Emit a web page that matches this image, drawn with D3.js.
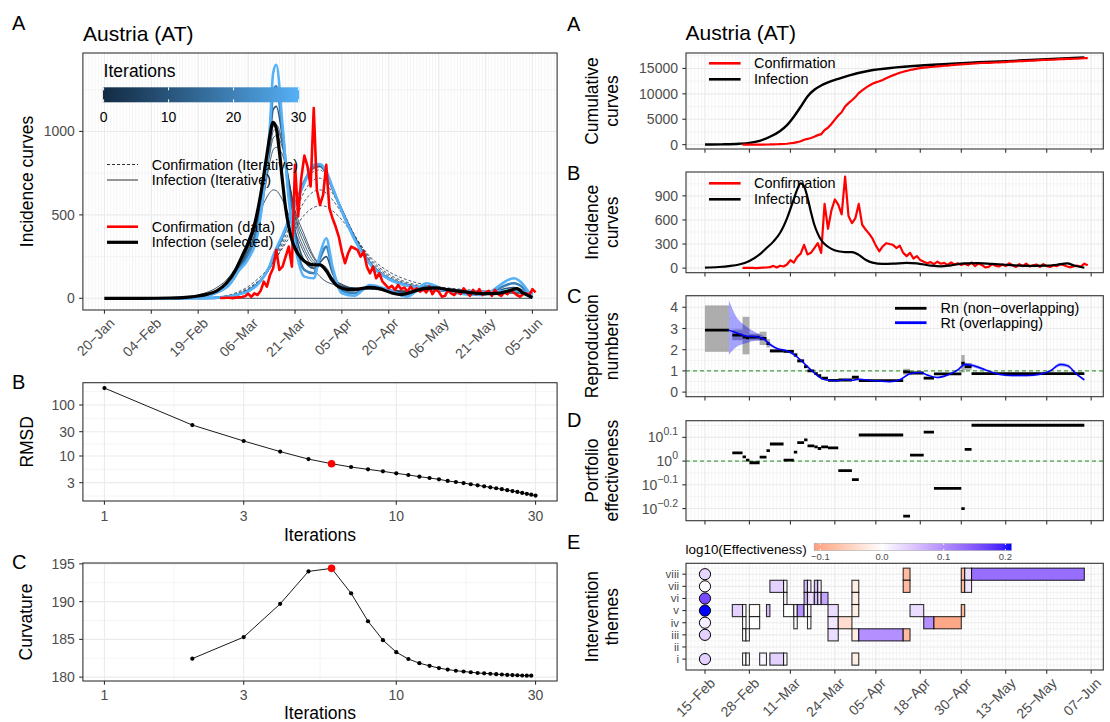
<!DOCTYPE html>
<html lang="en">
<head>
<meta charset="utf-8">
<title>Austria (AT)</title>
<script src="https://d3js.org/d3.v7.min.js"></script>
<style>
  body { margin: 0; background: #fff; }
  svg text { font-family: "Liberation Sans", Arial, sans-serif; }
</style>
</head>
<body>
<svg id="fig" width="1110" height="722"></svg>
<script>
// ---------------- data ----------------
// confirmed daily cases, one value per day from confStart
const confStart = "2020-02-26";
const confDaily = [2, 2, 3, 3,
  1, 4, 6, 8, 12, 28, 8, 30, 20, 45, 100, 70, 140, 180, 290, 170, 190, 250, 310, 190,
  800, 490, 720, 855, 790, 670, 1140, 650, 560, 620, 800,
  540, 480, 430, 370, 280, 210, 270, 310, 300, 290, 250, 280, 190, 150, 190, 120, 150, 100, 80, 60,
  75, 50, 80, 55, 65, 40, 70, 45, 60, 40,
  55, 35, 70, 25, 55, 40, 10, 15, 50, 30, 20, 45, 25, 60, 35, 15, 50, 25, 55, 20,
  35, 45, 15, 50, 25, 15, 35, 25, 50, 35, 20,
  10, 25, 30, 20, 55, 35];

// selected infection curve
const infDates = ["2020-01-20","2020-02-01","2020-02-10","2020-02-15","2020-02-19","2020-02-22","2020-02-25","2020-02-28",
  "2020-03-02","2020-03-04","2020-03-06","2020-03-08","2020-03-10","2020-03-12","2020-03-13","2020-03-14",
  "2020-03-15","2020-03-16","2020-03-17","2020-03-18","2020-03-19","2020-03-20","2020-03-21","2020-03-23",
  "2020-03-25","2020-03-27","2020-03-29","2020-03-31","2020-04-02","2020-04-04","2020-04-07","2020-04-10",
  "2020-04-14","2020-04-17","2020-04-21","2020-04-24","2020-04-27","2020-05-01","2020-05-05","2020-05-09",
  "2020-05-13","2020-05-17","2020-05-21","2020-05-25","2020-05-28","2020-05-31","2020-06-02","2020-06-05"];
const infValues = [0, 0, 2, 6, 14, 25, 45, 90,
  170, 250, 330, 440, 620, 860, 980, 1055,
  1020, 880, 700, 540, 430, 350, 300, 240,
  210, 200, 200, 165, 105, 68, 52, 55,
  65, 58, 32, 22, 35, 58, 62, 52,
  42, 32, 28, 30, 42, 58, 32, 5];

// cumulative infection curve
const cumInfDates = ["2020-02-15","2020-02-20","2020-02-25","2020-02-28","2020-03-02","2020-03-05","2020-03-08",
  "2020-03-10","2020-03-12","2020-03-14","2020-03-16","2020-03-18","2020-03-20","2020-03-22","2020-03-25",
  "2020-03-28","2020-04-03","2020-04-11","2020-04-26","2020-05-17","2020-06-05"];
const cumInfValues = [20, 60, 180, 350, 750, 1550, 2700, 3850, 5500, 7450, 9500, 10800, 11650, 12250, 12950,
  13600, 14550, 15200, 15900, 16550, 17180];

// iterative curves (panel A, left)
const itDates = ["2020-01-20","2020-02-05","2020-02-15","2020-02-20","2020-02-25","2020-02-29","2020-03-03",
  "2020-03-06","2020-03-09","2020-03-11","2020-03-13","2020-03-14","2020-03-15","2020-03-17","2020-03-19",
  "2020-03-21","2020-03-24","2020-03-27","2020-03-29","2020-03-31","2020-04-02","2020-04-05","2020-04-09",
  "2020-04-14","2020-04-20","2020-04-26","2020-05-02","2020-05-10","2020-05-20","2020-05-30","2020-06-05"];
const it0Dates = ["2020-01-20", "2020-06-05"];
const it0Values = [0, 0];
const infIt1 = [0,2,10,25,65,130,220,350,480,570,635,650,645,590,500,400,270,175,130,100,85,70,62,58,50,45,45,40,32,30,20];
const infIt2 = [0,1,6,18,50,105,190,320,480,620,820,890,905,860,700,530,380,250,200,160,120,85,60,55,48,40,50,42,30,38,10];
const infIt3 = [0,1,5,15,45,95,180,310,470,640,870,960,975,900,720,510,355,240,195,165,120,80,58,55,48,38,52,42,30,40,8];
const infIt4 = [0,1,4,13,42,90,175,305,470,650,900,1000,1015,920,710,490,325,222,200,175,120,75,55,58,48,35,55,42,28,45,6];
const infIt5 = [0,0,3,12,40,88,172,300,470,660,920,1030,1040,930,690,460,295,212,205,185,120,70,52,60,48,32,57,40,27,50,5];
const infIt10 = [0,0,2,10,38,85,170,280,440,650,950,1130,1150,960,670,410,225,180,215,250,150,60,45,65,50,25,62,40,25,65,4];
const infIt20 = [0,0,2,9,36,84,168,260,410,640,990,1240,1270,1000,630,360,170,150,240,310,170,45,30,70,50,20,72,38,22,90,3];
const infIt30 = [0,0,2,8,35,82,165,235,380,640,1040,1350,1400,1040,590,320,130,120,265,360,190,30,15,80,50,10,90,35,20,120,2];
const confIt1 = [0,0,0,2,8,20,40,70,115,150,195,220,245,300,360,420,500,545,555,550,525,470,370,250,160,110,80,60,45,38,30];
const confIt2 = [0,0,0,1,6,16,33,60,100,135,180,210,240,310,390,470,580,640,650,630,590,510,380,240,145,95,70,55,42,38,30];
const confIt3 = [0,0,0,1,5,14,30,55,95,130,180,215,250,330,420,510,640,710,720,690,630,530,380,230,135,88,65,52,40,38,30];
const confIt5 = [0,0,0,1,5,13,28,52,92,130,185,225,265,350,450,550,690,760,770,730,650,535,375,220,125,82,62,50,38,40,28];
const confIt10 = [0,0,0,1,4,12,26,48,88,130,190,235,280,365,460,560,700,780,790,745,655,530,370,215,120,80,60,50,38,42,28];
const confIt20 = [0,0,0,1,4,12,25,45,85,130,195,245,290,370,465,560,700,790,800,755,660,525,360,210,118,78,60,48,38,44,28];
const confIt30 = [0,0,0,1,4,11,24,42,82,130,200,255,300,380,470,555,690,800,805,760,665,520,355,205,115,76,58,47,38,45,28];

// RMSD and curvature by iteration
const iterations = d3.range(1, 31);
const rmsd = [215, 40.5, 19.7, 12.2, 8.7, 7.06, 6.08, 5.48, 5.0, 4.57, 4.24, 3.93, 3.7, 3.49, 3.24,
  3.09, 2.95, 2.79, 2.66, 2.54, 2.43, 2.33, 2.23, 2.14, 2.05, 1.97, 1.89, 1.81, 1.74, 1.67];
const curvIter = d3.range(2, 30);
const curvature = [182.45, 185.3, 189.7, 194.0, 194.4, 191.1, 187.4, 184.9, 183.3, 182.4, 181.85, 181.5, 181.2, 181.0,
  180.85, 180.75, 180.65, 180.55, 180.5, 180.45, 180.4, 180.35, 180.3, 180.28, 180.25, 180.22, 180.2, 180.2];
const selectedIter = 6;

// axis ticks
const ticksLeft = ["2020-01-20","2020-02-04","2020-02-19","2020-03-06","2020-03-21","2020-04-05","2020-04-20","2020-05-06","2020-05-21","2020-06-05"];
const labelsLeft = ["20−Jan","04−Feb","19−Feb","06−Mar","21−Mar","05−Apr","20−Apr","06−May","21−May","05−Jun"];
const ticksRight = ["2020-02-15","2020-02-28","2020-03-11","2020-03-24","2020-04-05","2020-04-18","2020-04-30","2020-05-13","2020-05-25","2020-06-07"];
const labelsRight = ["15−Feb","28−Feb","11−Mar","24−Mar","05−Apr","18−Apr","30−Apr","13−May","25−May","07−Jun"];

// reproduction numbers (non-overlapping windows)
const rnStart = ["2020-02-15","2020-02-23","2020-02-26","2020-02-27","2020-02-28","2020-03-02","2020-03-04","2020-03-05","2020-03-09",
  "2020-03-12","2020-03-13","2020-03-15","2020-03-16","2020-03-18","2020-03-19","2020-03-20","2020-03-22","2020-03-25",
  "2020-03-29","2020-03-31","2020-04-13","2020-04-15","2020-04-19","2020-04-22","2020-04-30","2020-05-01","2020-05-03"];
const rnEnd = ["2020-02-22","2020-02-26","2020-02-27","2020-02-28","2020-03-02","2020-03-04","2020-03-05","2020-03-09","2020-03-12",
  "2020-03-13","2020-03-15","2020-03-16","2020-03-18","2020-03-19","2020-03-20","2020-03-22","2020-03-25","2020-03-29",
  "2020-03-31","2020-04-13","2020-04-15","2020-04-19","2020-04-22","2020-04-30","2020-05-01","2020-05-03","2020-06-05"];
const rnValue = [2.92, 2.69, 2.6, 2.56, 2.59, 2.53, 2.29, 1.94, 1.92, 1.75, 1.47, 1.2, 1.0, 0.87, 0.78, 0.66, 0.55, 0.57,
  0.7, 0.54, 0.95, 0.9, 0.66, 0.86, 1.36, 1.2, 0.87];
const rnLow = [1.9, 2.45, 1.78, 1.78, 2.45, 2.22, 2.1, 1.86, 1.85, 1.66, 1.4, 1.12, 0.95, 0.82, 0.74, 0.62, 0.52, 0.54,
  0.65, 0.52, 0.82, 0.85, 0.6, 0.82, 0.93, 1.05, 0.85];
const rnHigh = [4.09, 2.95, 3.55, 3.55, 2.75, 2.85, 2.5, 2.02, 2.0, 1.84, 1.55, 1.28, 1.06, 0.92, 0.83, 0.7, 0.58, 0.6,
  0.75, 0.56, 1.1, 0.95, 0.72, 0.9, 1.75, 1.37, 0.89];

// reproduction number (overlapping windows)
const rtDates = ["2020-02-22","2020-02-24","2020-02-27","2020-03-01","2020-03-03","2020-03-05","2020-03-07","2020-03-10",
  "2020-03-12","2020-03-14","2020-03-16","2020-03-18","2020-03-20","2020-03-22","2020-03-25","2020-03-27","2020-03-29",
  "2020-03-31","2020-04-03","2020-04-06","2020-04-09","2020-04-12","2020-04-15","2020-04-18","2020-04-20","2020-04-23",
  "2020-04-26","2020-04-29","2020-05-01","2020-05-03","2020-05-07","2020-05-11","2020-05-15","2020-05-19","2020-05-23",
  "2020-05-26","2020-05-29","2020-05-31","2020-06-03","2020-06-05"];
const rtMean = [2.92, 2.81, 2.65, 2.61, 2.53, 2.25, 2.06, 1.94, 1.78, 1.51, 1.2, 0.9, 0.65, 0.56, 0.54, 0.59, 0.56, 0.61,
  0.56, 0.52, 0.49, 0.58, 0.87, 0.93, 0.81, 0.69, 0.81, 1.05, 1.3, 1.27, 1.05, 0.84, 0.78, 0.78, 0.84, 1.0, 1.3, 1.25, 0.81, 0.58];
const rtLow = [1.75, 2.1, 2.3, 2.42, 2.42, 2.17, 2.0, 1.89, 1.73, 1.47, 1.16, 0.87, 0.62, 0.53, 0.51, 0.56, 0.53, 0.58,
  0.53, 0.49, 0.46, 0.55, 0.83, 0.89, 0.77, 0.65, 0.77, 0.99, 1.22, 1.19, 0.99, 0.8, 0.74, 0.74, 0.8, 0.95, 1.22, 1.17, 0.76, 0.52];
const rtHigh = [4.33, 3.6, 3.1, 2.8, 2.66, 2.33, 2.12, 1.99, 1.83, 1.55, 1.24, 0.93, 0.68, 0.59, 0.57, 0.62, 0.59, 0.64,
  0.59, 0.55, 0.52, 0.61, 0.91, 0.97, 0.85, 0.73, 0.85, 1.11, 1.38, 1.35, 1.11, 0.88, 0.82, 0.82, 0.88, 1.05, 1.38, 1.33, 0.86, 0.64];

// portfolio effectiveness (log10) per window; windows = rn windows 2..n
const portLog10 = [0.035, 0.018, 0.004, -0.007, 0.017, 0.044, 0.072, 0.004, 0.0375, 0.078, 0.089, 0.064, 0.06, 0.053,
  0.06, 0.056, -0.04, -0.078, 0.11, -0.232, 0.025, 0.122, -0.115, -0.2, 0.049, 0.151];

// intervention themes
const themes = ["i", "ii", "iii", "iv", "v", "vi", "vii", "viii"];
const themeOverall = [0.04, null, 0.04, 0.015, 0.21, 0.16, 0.005, 0.035];
const tiles = [
  ["viii","2020-04-13","2020-04-15",-0.08], ["viii","2020-04-30","2020-05-01",-0.08], ["viii","2020-05-01","2020-05-03",0.03], ["viii","2020-05-03","2020-06-05",0.13],
  ["vii","2020-03-05","2020-03-09",0.04], ["vii","2020-03-09","2020-03-10",0.005], ["vii","2020-03-15","2020-03-16",0.06], ["vii","2020-03-16","2020-03-17",0.01],
  ["vii","2020-03-18","2020-03-19",0.06], ["vii","2020-03-19","2020-03-20",0.01], ["vii","2020-03-29","2020-03-31",-0.02], ["vii","2020-04-13","2020-04-15",-0.08],
  ["vii","2020-04-30","2020-05-01",-0.08], ["vii","2020-05-01","2020-05-03",0.02],
  ["vi","2020-03-09","2020-03-10",0.005], ["vi","2020-03-15","2020-03-16",0.07], ["vi","2020-03-16","2020-03-18",0.03], ["vi","2020-03-18","2020-03-19",0.06],
  ["vi","2020-03-19","2020-03-20",0.03], ["vi","2020-03-20","2020-03-22",0.08], ["vi","2020-03-29","2020-03-31",-0.02],
  ["v","2020-02-23","2020-02-26",0.04], ["v","2020-02-26","2020-02-27",0.0], ["v","2020-02-28","2020-03-02",-0.005], ["v","2020-03-04","2020-03-05",0.06],
  ["v","2020-03-09","2020-03-12",0.0], ["v","2020-03-12","2020-03-13",0.0], ["v","2020-03-13","2020-03-15",0.1], ["v","2020-03-15","2020-03-16",0.0],
  ["v","2020-03-16","2020-03-17",0.01], ["v","2020-03-22","2020-03-25",0.03], ["v","2020-03-29","2020-03-31",-0.02], ["v","2020-04-15","2020-04-19",0.03],
  ["v","2020-04-30","2020-05-01",-0.08],
  ["iv","2020-02-26","2020-02-27",0.0], ["iv","2020-02-28","2020-03-02",0.0], ["iv","2020-03-12","2020-03-13",0.0], ["iv","2020-03-16","2020-03-17",0.0],
  ["iv","2020-03-22","2020-03-25",0.02], ["iv","2020-03-25","2020-03-29",-0.04], ["iv","2020-04-19","2020-04-22",0.1], ["iv","2020-04-22","2020-04-30",-0.1],
  ["iii","2020-02-26","2020-02-27",0.0], ["iii","2020-02-27","2020-02-28",0.0], ["iii","2020-03-22","2020-03-25",0.03], ["iii","2020-03-29","2020-03-31",-0.02],
  ["iii","2020-03-31","2020-04-13",0.1], ["iii","2020-04-13","2020-04-15",-0.08],
  ["i","2020-02-26","2020-02-27",0.0], ["i","2020-02-27","2020-02-28",0.0], ["i","2020-03-02","2020-03-04",0.01], ["i","2020-03-05","2020-03-09",0.04],
  ["i","2020-03-09","2020-03-10",0.0], ["i","2020-03-29","2020-03-31",-0.02]
];

// ---------------- helpers ----------------
const svg = d3.select("#fig");
const pd = d3.timeParse("%Y-%m-%d");
const GRID = "#EBEBEB", BORDER = "#333333", TXT = "#4D4D4D";

function expand(lo, hi, f = 0.05) { const r = hi - lo; return [lo - f * r, hi + f * r]; }
function expandT(a, b) { const e = expand(+a, +b); return [new Date(e[0]), new Date(e[1])]; }
function pairs(dates, vals) { return dates.map((d, i) => [pd(d), vals[i]]); }
function inside(v, a, b) { return v >= Math.min(a, b) && v <= Math.max(a, b); }

function panel(id, b, xMaj, xMin, yMaj, yMin) {
  const g = svg.append("g").attr("id", id);
  g.append("rect").attr("x", b.x0).attr("y", b.y0).attr("width", b.x1 - b.x0).attr("height", b.y1 - b.y0).attr("fill", "#fff");
  const gr = g.append("g").attr("stroke", GRID);
  xMin.filter(x => inside(x, b.x0, b.x1)).forEach(x => gr.append("line").attr("x1", x).attr("x2", x).attr("y1", b.y0).attr("y2", b.y1).attr("stroke-width", 0.55));
  yMin.filter(y => inside(y, b.y0, b.y1)).forEach(y => gr.append("line").attr("x1", b.x0).attr("x2", b.x1).attr("y1", y).attr("y2", y).attr("stroke-width", 0.55));
  xMaj.forEach(x => gr.append("line").attr("x1", x).attr("x2", x).attr("y1", b.y0).attr("y2", b.y1).attr("stroke-width", 1.1));
  yMaj.forEach(y => gr.append("line").attr("x1", b.x0).attr("x2", b.x1).attr("y1", y).attr("y2", y).attr("stroke-width", 1.1));
  g.append("clipPath").attr("id", id + "-clip").append("rect")
    .attr("x", b.x0).attr("y", b.y0).attr("width", b.x1 - b.x0).attr("height", b.y1 - b.y0);
  return g.append("g").attr("clip-path", `url(#${id}-clip)`);
}
function frame(b) {
  svg.append("rect").attr("x", b.x0).attr("y", b.y0).attr("width", b.x1 - b.x0).attr("height", b.y1 - b.y0)
    .attr("fill", "none").attr("stroke", BORDER).attr("stroke-width", 1.1);
}
function yTicks(b, vals, y, fmt) {
  vals.forEach(v => {
    svg.append("line").attr("x1", b.x0 - 3.7).attr("x2", b.x0).attr("y1", y(v)).attr("y2", y(v)).attr("stroke", BORDER).attr("stroke-width", 1.1);
    svg.append("text").attr("x", b.x0 - 8).attr("y", y(v)).attr("dy", "0.36em").attr("text-anchor", "end")
      .attr("font-size", 14).attr("fill", TXT).text(fmt(v));
  });
}
function xMarks(b, xs) {
  xs.forEach(x => svg.append("line").attr("x1", x).attr("x2", x).attr("y1", b.y1).attr("y2", b.y1 + 3.7).attr("stroke", BORDER).attr("stroke-width", 1.1));
}
function rotLabels(b, xs, labels) {
  xs.forEach((x, i) => svg.append("text").attr("transform", `translate(${x + 4},${b.y1 + 7}) rotate(-45)`)
    .attr("text-anchor", "end").attr("dy", "0.7em").attr("font-size", 14).attr("fill", TXT).text(labels[i]));
}
function yTitle(x, yc, lines) {
  lines.forEach((t, i) => svg.append("text").attr("transform", `translate(${x + i * 20},${yc}) rotate(-90)`)
    .attr("text-anchor", "middle").attr("dy", "0.35em").attr("font-size", 17.5).text(t));
}
function letter(x, y, t) {
  svg.append("text").attr("x", x).attr("y", y).attr("dy", "0.36em").attr("font-size", 20).text(t);
}
function legendLine(x, y, len, col, w, dash, label, lx) {
  svg.append("line").attr("x1", x).attr("x2", x + len).attr("y1", y).attr("y2", y).attr("stroke", col)
    .attr("stroke-width", w).attr("stroke-dasharray", dash || null);
  svg.append("text").attr("x", lx).attr("y", y).attr("dy", "0.36em").attr("font-size", 14.4).text(label);
}

// ================= LEFT A: iterative incidence curves =================
const bA = {x0: 82.9, x1: 557.1, y0: 53, y1: 310};
const xA = d3.scaleTime().domain(expandT(pd("2020-01-20"), pd("2020-06-06"))).range([bA.x0, bA.x1]);
const infIters = [[1, infIt1], [2, infIt2], [3, infIt3], [4, infIt4], [5, infIt5], [10, infIt10], [20, infIt20], [30, infIt30]];
const confIters = [[1, confIt1], [2, confIt2], [3, confIt3], [5, confIt5], [10, confIt10], [20, confIt20], [30, confIt30]];
const yMaxA = d3.max([...infIters.map(d => d3.max(d[1])), d3.max(confDaily), d3.max(infValues)]);
const yA = d3.scaleLinear().domain(expand(0, yMaxA)).range([bA.y1, bA.y0]);
const daysA = d3.timeDay.range(xA.domain()[0], xA.domain()[1]).map(xA);
const tickXA = ticksLeft.map(d => xA(pd(d)));
const pA = panel("pA", bA, tickXA, daysA, [0, 500, 1000].map(yA), [250, 750, 1250].map(yA));
const iterCol = d3.scaleLinear().domain([0, 30]).range(["#132B43", "#56B1F7"]).interpolate(d3.interpolateLab);
const lineA = d3.line().x(d => xA(d[0])).y(d => yA(d[1])).curve(d3.curveMonotoneX);
const iterW = k => (k >= 20 ? 2.6 : k >= 10 ? 1.6 : 0.8);

[[0, it0Values]].forEach(([k, v]) => {
  pA.append("path").attr("d", lineA(pairs(it0Dates, v))).attr("fill", "none").attr("stroke", iterCol(k)).attr("stroke-width", 0.8);
});
infIters.forEach(([k, v]) => {
  pA.append("path").attr("d", lineA(pairs(itDates, v))).attr("fill", "none").attr("stroke", iterCol(k)).attr("stroke-width", iterW(k));
  const c = confIters.find(d => d[0] === k);
  if (c) pA.append("path").attr("d", lineA(pairs(itDates, c[1]))).attr("fill", "none").attr("stroke", iterCol(k))
    .attr("stroke-width", k >= 10 ? iterW(k) : 0.8).attr("stroke-dasharray", k >= 10 ? null : "3,2");
});
const confPairs = confDaily.map((v, i) => [d3.timeDay.offset(pd(confStart), i), v]);
pA.append("path").attr("d", d3.line().x(d => xA(d[0])).y(d => yA(d[1]))(confPairs))
  .attr("fill", "none").attr("stroke", "#FF0000").attr("stroke-width", 2.6).attr("stroke-linejoin", "round");
pA.append("path").attr("d", lineA(pairs(infDates, infValues))).attr("fill", "none").attr("stroke", "#000").attr("stroke-width", 3.2);
frame(bA);
yTicks(bA, [0, 500, 1000], yA, d3.format("d"));
xMarks(bA, tickXA);
rotLabels(bA, tickXA, labelsLeft);
yTitle(26.8, (bA.y0 + bA.y1) / 2, ["Incidence curves"]);
letter(12, 22.5, "A");
svg.append("text").attr("x", 83).attr("y", 33).attr("dy", "0.36em").attr("font-size", 21).text("Austria (AT)");

// legend: iterations colour bar
const defs = svg.append("defs");
const grad = defs.append("linearGradient").attr("id", "iterGrad");
d3.range(0, 11).forEach(i => grad.append("stop").attr("offset", i / 10).attr("stop-color", iterCol(i * 3)));
const cbX = d3.scaleLinear().domain([0, 30]).range([103.6, 298.6]);
svg.append("text").attr("x", 103.6).attr("y", 70.7).attr("dy", "0.36em").attr("font-size", 17.5).text("Iterations");
svg.append("rect").attr("x", cbX(0) - 0.7).attr("y", 87.3).attr("width", cbX(30) - cbX(0) + 1.4).attr("height", 15).attr("fill", "url(#iterGrad)");
[0, 10, 20, 30].forEach(v => {
  svg.append("line").attr("x1", cbX(v)).attr("x2", cbX(v)).attr("y1", 87.3).attr("y2", 90.3).attr("stroke", "#fff").attr("stroke-width", 1);
  svg.append("line").attr("x1", cbX(v)).attr("x2", cbX(v)).attr("y1", 99.3).attr("y2", 102.3).attr("stroke", "#fff").attr("stroke-width", 1);
  svg.append("text").attr("x", cbX(v)).attr("y", 117.3).attr("dy", "0.36em").attr("text-anchor", "middle").attr("font-size", 14).text(v);
});
legendLine(107, 164.5, 31, "#1a1a1a", 0.9, "3,2", "Confirmation (Iterative)", 151.8);
legendLine(107, 180, 31, "#1a1a1a", 0.9, null, "Infection (Iterative)", 151.8);
legendLine(107, 226.7, 31, "#FF0000", 2.6, null, "Confirmation (data)", 151.8);
legendLine(107, 242.3, 31, "#000", 3.2, null, "Infection (selected)", 151.8);

// ================= LEFT B: RMSD =================
const logTicksX = [1, 3, 10, 30];
function logMinors(maj) {
  const l = maj.map(Math.log10), out = [];
  for (let i = 0; i < l.length - 1; i++) out.push((l[i] + l[i + 1]) / 2);
  out.unshift(l[0] - (l[1] - l[0]) / 2); out.push(l[l.length - 1] + (l[l.length - 1] - l[l.length - 2]) / 2);
  return out.map(v => Math.pow(10, v));
}
const xLogDom = expand(Math.log10(1), Math.log10(30)).map(v => Math.pow(10, v));
const bB = {x0: 82.9, x1: 557.1, y0: 382.7, y1: 501};
const xB = d3.scaleLog().domain(xLogDom).range([bB.x0, bB.x1]);
const yB = d3.scaleLog().domain(expand(Math.log10(d3.min(rmsd)), Math.log10(d3.max(rmsd))).map(v => Math.pow(10, v))).range([bB.y1, bB.y0]);
const yTicksB = [3, 10, 30, 100];
const pB = panel("pB", bB, logTicksX.map(xB), logMinors(logTicksX).map(xB), yTicksB.map(yB), logMinors(yTicksB).map(yB));
const rm = iterations.map((k, i) => [k, rmsd[i]]);
pB.append("path").attr("d", d3.line().x(d => xB(d[0])).y(d => yB(d[1]))(rm)).attr("fill", "none").attr("stroke", "#000").attr("stroke-width", 0.9);
pB.selectAll("circle.pt").data(rm).join("circle").attr("cx", d => xB(d[0])).attr("cy", d => yB(d[1]))
  .attr("r", d => d[0] === selectedIter ? 3.8 : 2.1).attr("fill", d => d[0] === selectedIter ? "#FF0000" : "#000");
frame(bB);
yTicks(bB, yTicksB, yB, d3.format("d"));
xMarks(bB, logTicksX.map(xB));
logTicksX.forEach(v => svg.append("text").attr("x", xB(v)).attr("y", bB.y1 + 15).attr("dy", "0.36em").attr("text-anchor", "middle").attr("font-size", 14).attr("fill", TXT).text(v));
svg.append("text").attr("x", (bB.x0 + bB.x1) / 2).attr("y", bB.y1 + 33.5).attr("dy", "0.36em").attr("text-anchor", "middle").attr("font-size", 17.5).text("Iterations");
yTitle(26.8, (bB.y0 + bB.y1) / 2, ["RMSD"]);
letter(12, 381.7, "B");

// ================= LEFT C: curvature =================
const bC = {x0: 82.9, x1: 557.1, y0: 563, y1: 681};
const xC = d3.scaleLog().domain(xLogDom).range([bC.x0, bC.x1]);
const yC = d3.scaleLinear().domain(expand(d3.min(curvature), d3.max(curvature))).range([bC.y1, bC.y0]);
const pC = panel("pC", bC, logTicksX.map(xC), logMinors(logTicksX).map(xC), [180, 185, 190, 195].map(yC), [182.5, 187.5, 192.5].map(yC));
const cv = curvIter.map((k, i) => [k, curvature[i]]);
pC.append("path").attr("d", d3.line().x(d => xC(d[0])).y(d => yC(d[1]))(cv)).attr("fill", "none").attr("stroke", "#000").attr("stroke-width", 0.9);
pC.selectAll("circle.pt").data(cv).join("circle").attr("cx", d => xC(d[0])).attr("cy", d => yC(d[1]))
  .attr("r", d => d[0] === selectedIter ? 3.8 : 2.1).attr("fill", d => d[0] === selectedIter ? "#FF0000" : "#000");
frame(bC);
yTicks(bC, [180, 185, 190, 195], yC, d3.format("d"));
xMarks(bC, logTicksX.map(xC));
logTicksX.forEach(v => svg.append("text").attr("x", xC(v)).attr("y", bC.y1 + 14).attr("dy", "0.36em").attr("text-anchor", "middle").attr("font-size", 14).attr("fill", TXT).text(v));
svg.append("text").attr("x", (bC.x0 + bC.x1) / 2).attr("y", bC.y1 + 32).attr("dy", "0.36em").attr("text-anchor", "middle").attr("font-size", 17.5).text("Iterations");
yTitle(26, (bC.y0 + bC.y1) / 2, ["Curvature"]);
letter(12, 561.7, "C");

// ================= RIGHT column =================
const RX0 = 686, RX1 = 1103.3;
const xR = d3.scaleTime().domain(expandT(pd("2020-02-15"), pd("2020-06-05"))).range([RX0, RX1]);
const daysR = d3.timeDay.range(xR.domain()[0], xR.domain()[1]).map(xR);
const tickXR = ticksRight.map(d => xR(pd(d)));
const feb15 = pd("2020-02-15");
const lineR = (y) => d3.line().x(d => xR(d[0])).y(d => y(d[1]));

svg.append("text").attr("x", 685.6).attr("y", 32.5).attr("dy", "0.36em").attr("font-size", 21).text("Austria (AT)");

// --- A: cumulative curves ---
const bRA = {x0: RX0, x1: RX1, y0: 53, y1: 149};
const cumConf = d3.cumsum(confDaily);
const cumConfPairs = confPairs.map((d, i) => [d[0], cumConf[i]]);
const yRA = d3.scaleLinear().domain(expand(0, Math.max(d3.max(cumConf), d3.max(cumInfValues)))).range([bRA.y1, bRA.y0]);
const pRA = panel("pRA", bRA, tickXR, daysR, [0, 5000, 10000, 15000].map(yRA), [2500, 7500, 12500, 17500].map(yRA));
pRA.append("path").attr("d", lineR(yRA).curve(d3.curveMonotoneX)(pairs(cumInfDates, cumInfValues))).attr("fill", "none").attr("stroke", "#000").attr("stroke-width", 2.4);
pRA.append("path").attr("d", lineR(yRA)(cumConfPairs)).attr("fill", "none").attr("stroke", "#FF0000").attr("stroke-width", 2.2);
frame(bRA);
yTicks(bRA, [0, 5000, 10000, 15000], yRA, d3.format("d"));
xMarks(bRA, tickXR);
legendLine(709, 63.3, 31.6, "#FF0000", 2.6, null, "Confirmation", 754);
legendLine(709, 79.3, 31.6, "#000", 2.6, null, "Infection", 754);
yTitle(592.3, (bRA.y0 + bRA.y1) / 2, ["Cumulative", "curves"]);
letter(567, 23.3, "A");

// --- B: incidence curves ---
const bRB = {x0: RX0, x1: RX1, y0: 172, y1: 272.7};
const yRB = d3.scaleLinear().domain(expand(0, d3.max(confDaily))).range([bRB.y1, bRB.y0]);
const pRB = panel("pRB", bRB, tickXR, daysR, [0, 300, 600, 900].map(yRB), [150, 450, 750, 1050].map(yRB));
const infR = pairs(infDates, infValues).filter(d => d[0] >= feb15);
pRB.append("path").attr("d", lineR(yRB)(confPairs)).attr("fill", "none").attr("stroke", "#FF0000").attr("stroke-width", 2.2).attr("stroke-linejoin", "round");
pRB.append("path").attr("d", lineR(yRB).curve(d3.curveMonotoneX)(infR)).attr("fill", "none").attr("stroke", "#000").attr("stroke-width", 2.2);
frame(bRB);
yTicks(bRB, [0, 300, 600, 900], yRB, d3.format("d"));
xMarks(bRB, tickXR);
legendLine(709, 183.3, 31.6, "#FF0000", 2.6, null, "Confirmation", 754);
legendLine(709, 199.3, 31.6, "#000", 2.6, null, "Infection", 754);
yTitle(592.3, (bRB.y0 + bRB.y1) / 2, ["Incidence", "curves"]);
letter(567, 172.5, "B");

// --- C: reproduction numbers ---
const bRC = {x0: RX0, x1: RX1, y0: 295.7, y1: 396.7};
const yRC = d3.scaleLinear().domain(expand(0, Math.max(d3.max(rtHigh), d3.max(rnHigh)))).range([bRC.y1, bRC.y0]);
const pRC = panel("pRC", bRC, tickXR, daysR, [0, 1, 2, 3, 4].map(yRC), [0.5, 1.5, 2.5, 3.5, 4.5].map(yRC));
rnStart.forEach((s, i) => {
  const xa = xR(pd(s)), xb = xR(pd(rnEnd[i]));
  pRC.append("rect").attr("x", xa).attr("width", xb - xa).attr("y", yRC(rnHigh[i])).attr("height", yRC(rnLow[i]) - yRC(rnHigh[i]))
    .attr("fill", "#8C8C8C").attr("fill-opacity", 0.7);
});
const rtRows = rtDates.map((d, i) => ({t: pd(d), m: rtMean[i], lo: rtLow[i], hi: rtHigh[i]}));
pRC.append("path").attr("d", d3.area().x(d => xR(d.t)).y0(d => yRC(d.lo)).y1(d => yRC(d.hi)).curve(d3.curveMonotoneX)(rtRows))
  .attr("fill", "#0000FF").attr("fill-opacity", 0.35);
pRC.append("line").attr("x1", RX0).attr("x2", RX1).attr("y1", yRC(1)).attr("y2", yRC(1))
  .attr("stroke", "#1E8C1E").attr("stroke-width", 1).attr("stroke-dasharray", "4,3");
rnStart.forEach((s, i) => {
  pRC.append("line").attr("x1", xR(pd(s))).attr("x2", xR(pd(rnEnd[i]))).attr("y1", yRC(rnValue[i])).attr("y2", yRC(rnValue[i]))
    .attr("stroke", "#000").attr("stroke-width", 2.8);
});
pRC.append("path").attr("d", d3.line().x(d => xR(d.t)).y(d => yRC(d.m)).curve(d3.curveMonotoneX)(rtRows))
  .attr("fill", "none").attr("stroke", "#0000FF").attr("stroke-width", 1.5);
frame(bRC);
yTicks(bRC, [0, 1, 2, 3, 4], yRC, d3.format("d"));
xMarks(bRC, tickXR);
legendLine(895, 308.3, 31.5, "#000", 2.8, null, "Rn (non−overlapping)", 940.6);
legendLine(895, 322.7, 31.5, "#0000FF", 2.8, null, "Rt (overlapping)", 940.6);
yTitle(592.3, (bRC.y0 + bRC.y1) / 2, ["Reproduction", "numbers"]);
letter(567, 295.7, "C");

// --- D: portfolio effectiveness ---
const bRD = {x0: RX0, x1: RX1, y0: 420.7, y1: 520.7};
const yRD = d3.scaleLinear().domain(expand(d3.min(portLog10), d3.max(portLog10))).range([bRD.y1, bRD.y0]);
const pRD = panel("pRD", bRD, tickXR, daysR, [-0.2, -0.1, 0, 0.1].map(yRD), [-0.25, -0.15, -0.05, 0.05, 0.15].map(yRD));
pRD.append("line").attr("x1", RX0).attr("x2", RX1).attr("y1", yRD(0)).attr("y2", yRD(0))
  .attr("stroke", "#1E8C1E").attr("stroke-width", 1).attr("stroke-dasharray", "4,3");
portLog10.forEach((v, i) => {
  pRD.append("line").attr("x1", xR(pd(rnStart[i + 1]))).attr("x2", xR(pd(rnEnd[i + 1]))).attr("y1", yRD(v)).attr("y2", yRD(v))
    .attr("stroke", "#000").attr("stroke-width", 2.8);
});
frame(bRD);
[[-0.2, "−0.2"], [-0.1, "−0.1"], [0, "0"], [0.1, "0.1"]].forEach(([v, s]) => {
  const y = yRD(v);
  svg.append("line").attr("x1", RX0 - 3.7).attr("x2", RX0).attr("y1", y).attr("y2", y).attr("stroke", BORDER).attr("stroke-width", 1.1);
  const t = svg.append("text").attr("x", RX0 - 8).attr("y", y + 5).attr("text-anchor", "end").attr("fill", TXT);
  t.append("tspan").attr("font-size", 14).text("10");
  t.append("tspan").attr("font-size", 10.5).attr("dy", -7).text(s);
});
xMarks(bRD, tickXR);
yTitle(592.3, (bRD.y0 + bRD.y1) / 2, ["Portfolio", "effectiveness"]);
letter(567, 420, "D");

// --- E: intervention themes ---
const bRE = {x0: RX0, x1: RX1, y0: 563.3, y1: 670};
const yRE = d3.scaleLinear().domain(expand(0.5, 8.5)).range([bRE.y1, bRE.y0]);
const rowH = yRE(0) - yRE(1);
const effMax = 0.21;
const effCol = v => v >= 0 ? d3.interpolateLab("#FFFFFF", "#0000FF")(v / effMax) : d3.interpolateLab("#FFFFFF", "#FF2A00")(-v / effMax);
const pRE = panel("pRE", bRE, tickXR, daysR, d3.range(1, 9).map(yRE), d3.range(0.5, 9, 1).map(yRE));
tiles.forEach(([th, s, e, v]) => {
  const r = themes.indexOf(th) + 1, xa = xR(pd(s)), xb = xR(pd(e));
  pRE.append("rect").attr("x", xa).attr("width", xb - xa).attr("y", yRE(r + 0.5)).attr("height", rowH)
    .attr("fill", effCol(v)).attr("stroke", "#000").attr("stroke-opacity", 0.8).attr("stroke-width", 1.1);
});
themeOverall.forEach((v, i) => {
  if (v === null) return;
  pRE.append("circle").attr("cx", xR(feb15)).attr("cy", yRE(i + 1)).attr("r", 5.6)
    .attr("fill", effCol(v)).attr("stroke", "#000").attr("stroke-width", 1);
});
frame(bRE);
themes.forEach((t, i) => {
  const y = yRE(i + 1);
  svg.append("line").attr("x1", RX0 - 3.7).attr("x2", RX0).attr("y1", y).attr("y2", y).attr("stroke", BORDER).attr("stroke-width", 1.1);
  svg.append("text").attr("x", RX0 - 7).attr("y", y).attr("dy", "0.34em").attr("text-anchor", "end").attr("font-size", 11.5).attr("fill", TXT).text(t);
});
xMarks(bRE, tickXR);
rotLabels(bRE, tickXR, labelsRight);
yTitle(592.3, (bRE.y0 + bRE.y1) / 2, ["Intervention", "themes"]);
letter(567, 541.7, "E");

// colour bar for effectiveness
const ebX = d3.scaleLinear().domain([-0.1, 0.2]).range([820.3, 1005.4]);
const eGrad = defs.append("linearGradient").attr("id", "effGrad");
d3.range(0, 21).forEach(i => {
  const v = -0.11 + i * (0.32 / 20);
  eGrad.append("stop").attr("offset", i / 20).attr("stop-color", effCol(Math.min(v, effMax)));
});
svg.append("text").attr("x", 685.6).attr("y", 549).attr("dy", "0.36em").attr("font-size", 13.4).text("log10(Effectiveness)");
svg.append("rect").attr("x", ebX(-0.11)).attr("y", 543.5).attr("width", ebX(0.21) - ebX(-0.11)).attr("height", 7)
  .attr("fill", "url(#effGrad)").attr("stroke", "#999").attr("stroke-width", 0.5);
[[-0.1, "−0.1"], [0, "0.0"], [0.1, "0.1"], [0.2, "0.2"]].forEach(([v, s]) => {
  svg.append("line").attr("x1", ebX(v)).attr("x2", ebX(v)).attr("y1", 543.5).attr("y2", 545).attr("stroke", "#fff");
  svg.append("line").attr("x1", ebX(v)).attr("x2", ebX(v)).attr("y1", 549).attr("y2", 550.5).attr("stroke", "#fff");
  svg.append("text").attr("x", ebX(v)).attr("y", 556.5).attr("dy", "0.36em").attr("text-anchor", "middle").attr("font-size", 9.5).attr("fill", TXT).text(s);
});
</script>
</body>
</html>
